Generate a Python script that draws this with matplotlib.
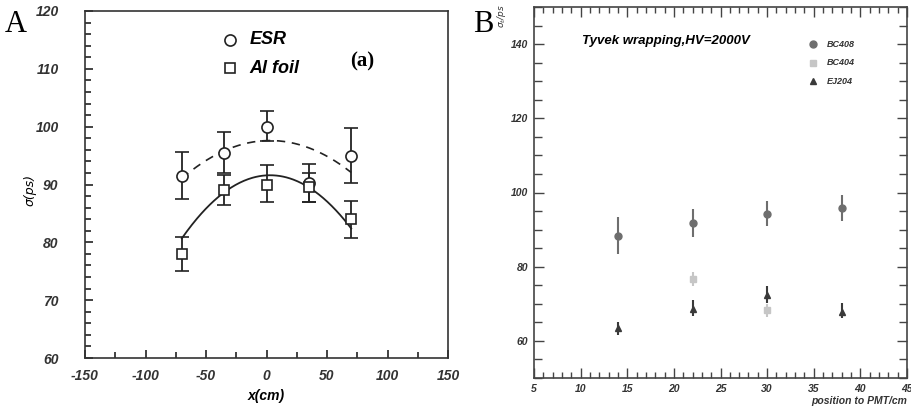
import numpy as np
import matplotlib
matplotlib.use("Agg")
import matplotlib.pyplot as plt
from matplotlib.ticker import MultipleLocator

plt.rcParams["axes.unicode_minus"] = False

# ---------------- Panel A data ----------------
a_x = [-70, -35, 0, 35, 70]
esr_y = [91.5, 95.5, 100.0, 90.3, 95.0]
esr_lo = [87.5, 92.0, 97.5, 87.0, 90.2]
esr_hi = [95.7, 99.0, 102.7, 93.5, 99.7]
al_y = [78.0, 89.0, 90.0, 89.5, 84.0]
al_lo = [75.0, 86.5, 87.0, 87.0, 80.7]
al_hi = [81.0, 91.7, 93.4, 92.0, 87.2]
# quadratic fit coefficients (peak value, peak position, curvature)
esr_fit = (97.6, 3.0, 0.00123)
al_fit = (91.6, 3.0, 0.00205)
fit_range = (-70, 70)

# ---------------- Panel B data ----------------
b408_x = [14, 22, 30, 38]
b408_y = [88.3, 91.9, 94.3, 95.9]
b408_lo = [83.5, 88.1, 91.0, 92.4]
b408_hi = [93.3, 95.5, 97.8, 99.4]
b404_x = [22, 30]
b404_y = [76.6, 68.4]
b404_lo = [74.7, 66.4]
b404_hi = [78.5, 70.0]
ej_x = [14, 22, 30, 38]
ej_y = [63.4, 68.6, 72.5, 67.9]
ej_lo = [61.6, 66.7, 70.2, 66.1]
ej_hi = [65.2, 71.0, 74.8, 70.2]

W, H = 911, 413
fig = plt.figure(figsize=(W / 100, H / 100), dpi=100)
fig.patch.set_facecolor("white")

def fx(px):
    return px / W

def fy(py):
    return 1 - py / H

bi = dict(fontweight="bold", fontstyle="italic", family="Liberation Sans")

# ================= Panel A =================
axA = fig.add_axes([fx(85), fy(358), fx(448) - fx(85), fy(11) - fy(358)])
axA.set_xlim(-150, 150)
axA.set_ylim(60, 120)
axA.xaxis.set_major_locator(MultipleLocator(50))
axA.xaxis.set_minor_locator(MultipleLocator(25))
axA.yaxis.set_major_locator(MultipleLocator(10))
axA.yaxis.set_minor_locator(MultipleLocator(2))
axA.tick_params(which="both", direction="in", top=False, right=False, width=1.2, color="#222")
axA.tick_params(which="major", length=6)
axA.tick_params(which="minor", length=4)
axA.tick_params(axis="x", which="major", pad=8)
axA.tick_params(axis="y", which="major", pad=19)
for s in axA.spines.values():
    s.set_linewidth(1.2)
    s.set_color("#333")
for lab in axA.get_xticklabels() + axA.get_yticklabels():
    lab.set_fontsize(10)
    lab.set_fontweight("bold")
    lab.set_fontstyle("italic")
    lab.set_family("Liberation Sans")
    lab.set_color("#333")

xx = np.linspace(fit_range[0], fit_range[1], 200)
axA.plot(xx, esr_fit[0] - esr_fit[2] * (xx - esr_fit[1]) ** 2, ls=(0, (5, 4)), color="#222", lw=1.2)
axA.plot(xx, al_fit[0] - al_fit[2] * (xx - al_fit[1]) ** 2, ls="-", color="#222", lw=1.3)

esr_err = [np.array(esr_y) - np.array(esr_lo), np.array(esr_hi) - np.array(esr_y)]
al_err = [np.array(al_y) - np.array(al_lo), np.array(al_hi) - np.array(al_y)]
axA.errorbar(a_x, esr_y, yerr=esr_err, fmt="o", mfc="white", mec="#222", mew=1.2, ms=8,
             ecolor="#222", elinewidth=1.3, capsize=5, capthick=1.3)
axA.errorbar(a_x, al_y, yerr=al_err, fmt="s", mfc="white", mec="#222", mew=1.2, ms=7.5,
             ecolor="#222", elinewidth=1.3, capsize=5, capthick=1.3)

axA.set_xlabel("x(cm)", fontsize=10, labelpad=4, **bi)
axA.set_ylabel("σ(ps)", fontsize=9, fontstyle="italic", family="DejaVu Sans")
axA.yaxis.set_label_coords(-0.133, 0.484)

# legend (manual)
axA.plot([-30], [115.0], "o", mfc="white", mec="#222", ms=8, mew=1.2)
axA.plot([-30], [110.1], "s", mfc="white", mec="#222", ms=7.5, mew=1.2)
axA.text(-14, 115.0, "ESR", fontsize=13, va="center", ha="left", **bi)
axA.text(-14, 110.1, "Al foil", fontsize=13, va="center", ha="left", **bi)
axA.text(69, 111.3, "(a)", fontsize=15, fontweight="bold", family="Liberation Serif", va="center")
fig.text(fx(5), fy(25), "A", fontsize=22, family="Liberation Serif", va="center", ha="left")

# ================= Panel B =================
axB = fig.add_axes([fx(534), fy(378), fx(907) - fx(534), fy(7) - fy(378)])
axB.set_xlim(5, 45)
axB.set_ylim(50, 150)
axB.xaxis.set_major_locator(MultipleLocator(5))
axB.xaxis.set_minor_locator(MultipleLocator(1))
axB.yaxis.set_major_locator(MultipleLocator(20))
axB.yaxis.set_minor_locator(MultipleLocator(5))
axB.tick_params(which="both", direction="in", top=True, right=True, width=1.0, color="#444")
axB.tick_params(which="major", length=7, pad=4)
axB.tick_params(which="minor", length=4)
axB.tick_params(axis="y", which="both", length=6)
axB.tick_params(axis="y", which="major", length=7)
for s in axB.spines.values():
    s.set_linewidth(1.2)
    s.set_color("#444")
for lab in axB.get_xticklabels() + axB.get_yticklabels():
    lab.set_fontsize(7.5)
    lab.set_fontweight("bold")
    lab.set_fontstyle("italic")
    lab.set_family("Liberation Sans")
    lab.set_color("#333")

def yerr(y, lo, hi):
    y = np.array(y)
    return [y - np.array(lo), np.array(hi) - y]

axB.errorbar(b408_x, b408_y, yerr=yerr(b408_y, b408_lo, b408_hi), fmt="o", color="#6e6e6e",
             ms=5, elinewidth=1.5, capsize=0)
axB.errorbar(b404_x, b404_y, yerr=yerr(b404_y, b404_lo, b404_hi), fmt="s", color="#c6c6c6",
             ms=5, elinewidth=1.5, capsize=0)
axB.errorbar(ej_x, ej_y, yerr=yerr(ej_y, ej_lo, ej_hi), fmt="^", color="#3a3a3a",
             ms=4.5, elinewidth=1.5, capsize=0)

axB.text(10.2, 140.8, "Tyvek wrapping,HV=2000V", fontsize=9.5, va="center", ha="left", **bi)
legy = [140.0, 135.0, 130.0]
axB.plot([34.9], [legy[0]], "o", color="#6e6e6e", ms=5)
axB.plot([34.9], [legy[1]], "s", color="#c6c6c6", ms=5)
axB.plot([34.9], [legy[2]], "^", color="#3a3a3a", ms=5)
for yv, t in zip(legy, ["BC408", "BC404", "EJ204"]):
    axB.text(36.4, yv, t, fontsize=6.5, va="center", ha="left", color="#333", **bi)

fig.text(fx(907), fy(401), "position to PMT/cm", fontsize=7.5, ha="right", va="center", color="#333", **bi)
fig.text(fx(501), fy(4), "σ$_t$/ps", fontsize=6.5, rotation=90, ha="center", va="top",
         fontstyle="italic", color="#333")
fig.text(fx(473), fy(25), "B", fontsize=22, family="Liberation Serif", va="center", ha="left")

fig.savefig("out.png", dpi=100, facecolor="white")
